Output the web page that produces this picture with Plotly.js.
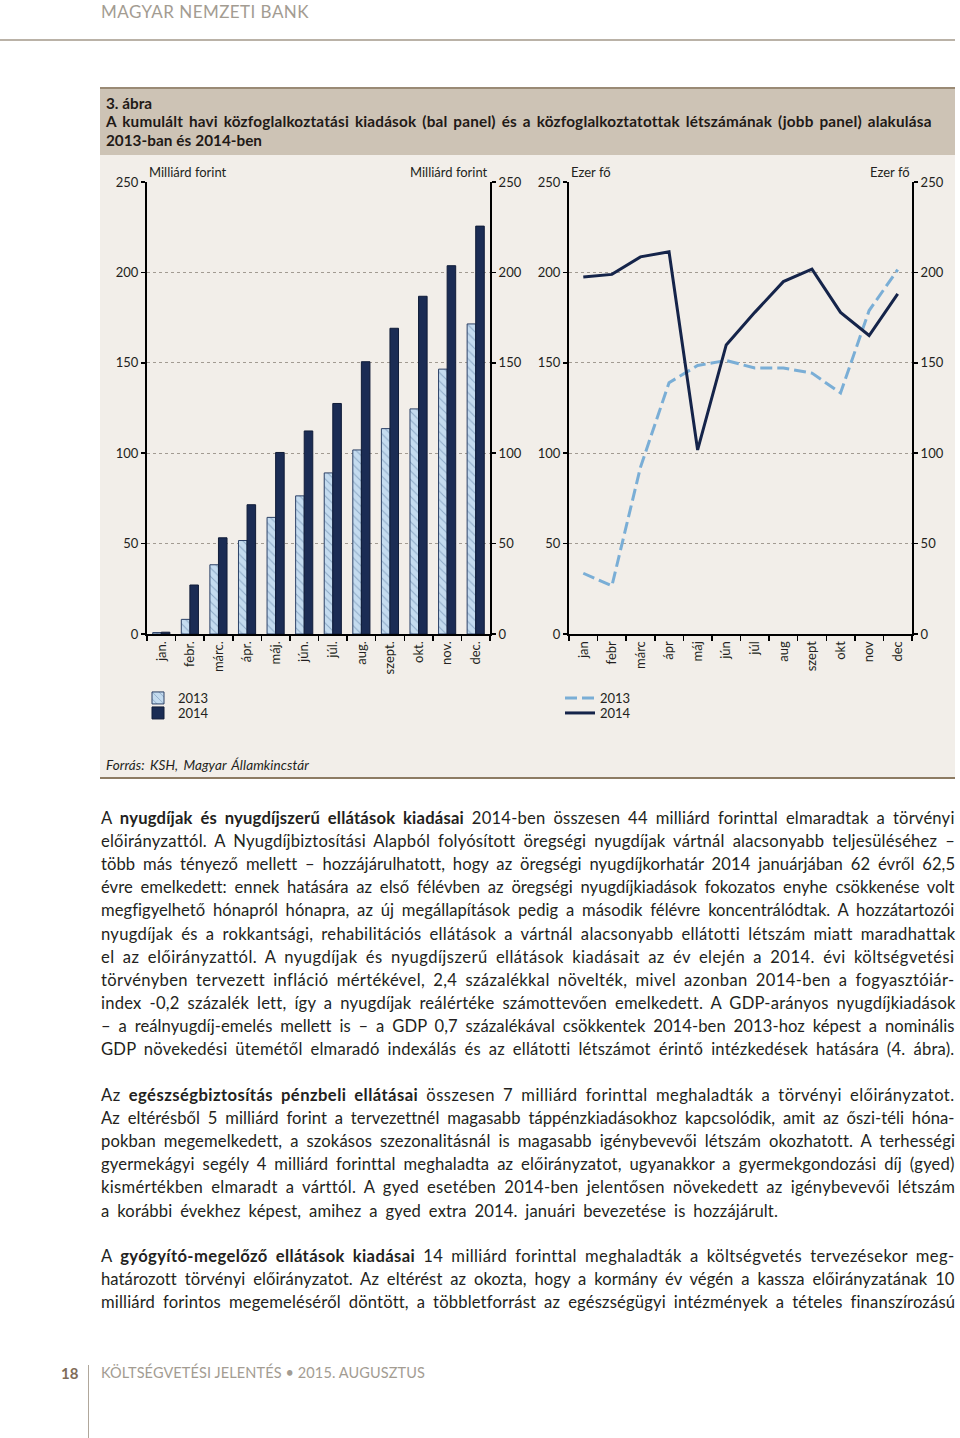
<!DOCTYPE html>
<html><head><meta charset="utf-8">
<script src="https://cdn.plot.ly/plotly-3.0.1.min.js"></script>
<style>
body{margin:0;width:960px;height:1438px;background:#fff;position:relative;font-family:Lato,'Open Sans',sans-serif;overflow:hidden;color:#231f20}
.t{position:absolute;white-space:nowrap;line-height:20px}
.hdr{font-size:17px;color:#a39c92;letter-spacing:0.3px}
.ttl{font-size:15.3px;font-weight:bold;color:#1f1a17}
.body{font-size:16.6px;color:#231f20}
.foot{font-size:14.5px;color:#a39c92}
</style></head><body>
<div class="t hdr" id="hdr" style="left:101px;top:2px">MAGYAR NEMZETI BANK</div>
<div style="position:absolute;left:0;top:39px;width:955px;height:2px;background:#bab2a7"></div>

<div style="position:absolute;left:100px;top:87px;width:855px;height:68px;background:#cdc3b5;border-top:2px solid #9a8a75;box-sizing:border-box"></div>
<div class="t ttl" style="left:106px;top:93px">3. ábra</div>
<div class="t ttl" id="tl1" style="left:106px;top:111px">A kumulált havi közfoglalkoztatási kiadások (bal panel) és a közfoglalkoztatottak létszámának (jobb panel) alakulása</div>
<div class="t ttl" id="tl2" style="left:106px;top:130px">2013-ban és 2014-ben</div>

<div style="position:absolute;left:100px;top:155px;width:855px;height:623px;background:#f2eee9"></div>
<div id="chart" style="position:absolute;left:100px;top:155px;width:855px;height:623px"></div>
<div class="t" id="src" style="left:106px;top:755px;font-size:13.5px;font-style:italic">Forrás: KSH, Magyar Államkincstár</div>
<div style="position:absolute;left:100px;top:777px;width:855px;height:2px;background:#8d7b63"></div>

<div id="text"></div>

<div class="t" style="left:61px;top:1363px;font-size:15px;font-weight:bold;color:#7f6d58">18</div>
<div style="position:absolute;left:88px;top:1365px;width:1px;height:73px;background:#b0a79b"></div>
<div class="t foot" id="foot" style="left:101px;top:1363px">KÖLTSÉGVETÉSI JELENTÉS • 2015. AUGUSZTUS</div>

<script>
// ---- chart data ----
const monthsLeft = ['jan.','febr.','márc.','ápr.','máj.','jún.','júl.','aug.','szept.','okt.','nov.','dec.'];
const monthsRight = ['jan','febr','márc','ápr','máj','jún','júl','aug','szept','okt','nov','dec'];
const seriesNames = ['2013','2014'];
const spend2013 = [0.8, 8.1, 38.3, 51.7, 64.5, 76.4, 89.1, 101.8, 113.6, 124.5, 146.5, 171.5];
const spend2014 = [1.0, 27.1, 53.2, 71.5, 100.4, 112.3, 127.5, 150.6, 169.1, 186.8, 203.7, 225.6];
const workers2013 = [33.6, 26.6, 92.2, 139.0, 148.5, 151.3, 147.1, 147.1, 144.3, 133.3, 178.9, 201.5];
const workers2014 = [197.4, 198.9, 208.6, 211.4, 101.8, 159.9, 177.9, 194.9, 201.8, 177.9, 165.1, 188.1];
const yTicks = [0, 50, 100, 150, 200, 250];
const unitLeft = 'Milliárd forint';
const unitRight = 'Ezer fő';

// ---- body text lines ----
const para1 = [
 'A <b>nyugdíjak és nyugdíjszerű ellátások kiadásai</b> 2014-ben összesen 44 milliárd forinttal elmaradtak a törvényi',
 'előirányzattól. A Nyugdíjbiztosítási Alapból folyósított öregségi nyugdíjak vártnál alacsonyabb teljesüléséhez –',
 'több más tényező mellett – hozzájárulhatott, hogy az öregségi nyugdíjkorhatár 2014 januárjában 62 évről 62,5',
 'évre emelkedett: ennek hatására az első félévben az öregségi nyugdíjkiadások fokozatos enyhe csökkenése volt',
 'megfigyelhető hónapról hónapra, az új megállapítások pedig a második félévre koncentrálódtak. A hozzátartozói',
 'nyugdíjak és a rokkantsági, rehabilitációs ellátások a vártnál alacsonyabb ellátotti létszám miatt maradhattak',
 'el az előirányzattól. A nyugdíjak és nyugdíjszerű ellátások kiadásait az év elején a 2014. évi költségvetési',
 'törvényben tervezett infláció mértékével, 2,4 százalékkal növelték, mivel azonban 2014-ben a fogyasztóiár-',
 'index -0,2 százalék lett, így a nyugdíjak reálértéke számottevően emelkedett. A GDP-arányos nyugdíjkiadások',
 '– a reálnyugdíj-emelés mellett is – a GDP 0,7 százalékával csökkentek 2014-ben 2013-hoz képest a nominális',
 'GDP növekedési ütemétől elmaradó indexálás és az ellátotti létszámot érintő intézkedések hatására (4. ábra).'
];
const para2 = [
 'Az <b>egészségbiztosítás pénzbeli ellátásai</b> összesen 7 milliárd forinttal meghaladták a törvényi előirányzatot.',
 'Az eltérésből 5 milliárd forint a tervezettnél magasabb táppénzkiadásokhoz kapcsolódik, amit az őszi-téli hóna-',
 'pokban megemelkedett, a szokásos szezonalitásnál is magasabb igénybevevői létszám okozhatott. A terhességi',
 'gyermekágyi segély 4 milliárd forinttal meghaladta az előirányzatot, ugyanakkor a gyermekgondozási díj (gyed)',
 'kismértékben elmaradt a várttól. A gyed esetében 2014-ben jelentősen növekedett az igénybevevői létszám',
 'a korábbi évekhez képest, amihez a gyed extra 2014. januári bevezetése is hozzájárult.'
];
const para3 = [
 'A <b>gyógyító-megelőző ellátások kiadásai</b> 14 milliárd forinttal meghaladták a költségvetés tervezésekor meg-',
 'határozott törvényi előirányzatot. Az eltérést az okozta, hogy a kormány év végén a kassza előirányzatának 10',
 'milliárd forintos megemeléséről döntött, a többletforrást az egészségügyi intézmények a tételes finanszírozású'
];

const textBox = document.getElementById('text');
const fitList = [];
function addPara(lines, y0, lastW){
  lines.forEach((ln,i)=>{
    const d = document.createElement('div');
    d.className='t body';
    d.innerHTML = ln;
    d.style.left='101px';
    d.style.top=(y0 + i*23.1 - 10)+'px';
    textBox.appendChild(d);
    fitList.push([d, (i===lines.length-1 && lastW) ? lastW : 853]);
  });
}
addPara(para1, 818, null);
addPara(para2, 1095, 677);
addPara(para3, 1256, null);

function fit(el, w, letters, wsMin, wsMax){
  el.style.wordSpacing='0px'; el.style.letterSpacing='0px';
  const nat = el.getBoundingClientRect().width;
  const diff = w - nat;
  const txt = el.textContent;
  const spaces = (txt.match(/ /g)||[]).length;
  if (letters || spaces === 0) { el.style.letterSpacing = (diff/txt.length)+'px'; return; }
  let ws = diff/spaces;
  ws = Math.max(wsMin, Math.min(wsMax, ws));
  const rest = diff - ws*spaces;
  el.style.wordSpacing = ws+'px';
  if (Math.abs(rest) > 0.5) el.style.letterSpacing = (rest/txt.length)+'px';
}
function doFit(){
  fitList.forEach(([el,w])=>fit(el,w,false,-2.5,3.5));
  fit(document.getElementById('hdr'),208,true);
  fit(document.getElementById('tl1'),825,false,-2,2);
  fit(document.getElementById('tl2'),156,false,-2,2);
  fit(document.getElementById('src'),203,false,-2,2);
  fit(document.getElementById('foot'),324,true);
}
doFit();
if (document.fonts && document.fonts.ready) document.fonts.ready.then(doFit);

// ---- plot ----
const W = 855, H = 623;
const yDom = [(H-479)/H, (H-27)/H];
const navy = '#1b2c54';
const lightBlue = '#7aaed6';
const axisFont = {family:'Lato, sans-serif', size:13, color:'#231f20'};

function yAx(extra){
  return Object.assign({range:[0,250], tickvals:yTicks, ticks:'outside', ticklen:4, tickwidth:1.5, tickcolor:'#000',
    showline:true, linecolor:'#000', linewidth:2, zeroline:false, tickfont:axisFont, fixedrange:true}, extra);
}
function xAx(extra){
  return Object.assign({type:'category', range:[-0.5, 11.5], autorange:false, tickson:'boundaries', ticks:'outside', ticklen:5, tickwidth:1.5, tickcolor:'#000',
    showline:true, linecolor:'#000', linewidth:2, tickangle:-90, showgrid:false, zeroline:false, tickfont:axisFont, fixedrange:true}, extra);
}
const grid = {showgrid:true, gridcolor:'#a29b92', griddash:'dot', gridwidth:1};

const traces = [
  {type:'bar', name:seriesNames[0], x:monthsLeft, y:spend2013, xaxis:'x', yaxis:'y', legend:'legend',
   marker:{color:'#c4dbef', line:{color:'#2c4166', width:1},
     pattern:{shape:'\\', fillmode:'overlay', fgcolor:'#5a7aa0', size:6, solidity:0.18}}, hoverinfo:'skip'},
  {type:'bar', name:seriesNames[1], x:monthsLeft, y:spend2014, xaxis:'x', yaxis:'y', legend:'legend2',
   marker:{color:navy, line:{color:'#101c38', width:1}}, hoverinfo:'skip'},
  {type:'scatter', mode:'markers', x:[monthsLeft[0]], y:[0], xaxis:'x', yaxis:'y2', showlegend:false,
   marker:{opacity:0, size:1}, hoverinfo:'skip'},
  {type:'scatter', mode:'lines', name:seriesNames[0], x:monthsRight, y:workers2013, xaxis:'x2', yaxis:'y3', legend:'legend3',
   line:{color:lightBlue, width:3, dash:'12px,5px'}, hoverinfo:'skip'},
  {type:'scatter', mode:'lines', name:seriesNames[1], x:monthsRight, y:workers2014, xaxis:'x2', yaxis:'y3', legend:'legend4',
   line:{color:'#15244a', width:3}, hoverinfo:'skip'},
  {type:'scatter', mode:'markers', x:[monthsRight[0]], y:[0], xaxis:'x2', yaxis:'y4', showlegend:false,
   marker:{opacity:0, size:1}, hoverinfo:'skip'}
];

function leg(xpx, ypx){
  return {x:xpx/W, y:1-ypx/H, xanchor:'left', yanchor:'middle', bgcolor:'rgba(0,0,0,0)', borderwidth:0,
    font:{family:'Lato, sans-serif', size:13, color:'#231f20'}, itemclick:false, itemdoubleclick:false};
}

const layout = {
  width:W, height:H, margin:{l:0,r:0,t:0,b:0},
  paper_bgcolor:'rgba(0,0,0,0)', plot_bgcolor:'rgba(0,0,0,0)',
  font:axisFont, barmode:'group', bargap:0.4, bargroupgap:0,
  showlegend:true,
  xaxis: xAx({domain:[47/W, 390/W], anchor:'y'}),
  yaxis: yAx(Object.assign({domain:yDom, anchor:'x', side:'left'}, grid)),
  yaxis2: yAx({overlaying:'y', anchor:'x', side:'right', showgrid:false}),
  xaxis2: xAx({domain:[469/W, 812/W], anchor:'y3'}),
  yaxis3: yAx(Object.assign({domain:yDom, anchor:'x2', side:'left'}, grid)),
  yaxis4: yAx({overlaying:'y3', anchor:'x2', side:'right', showgrid:false}),
  legend: leg(38, 543),
  legend2: leg(38, 558),
  legend3: leg(460, 543),
  legend4: leg(460, 558),
  annotations:[
    {text:unitLeft, xref:'x domain', yref:'paper', x:0, y:1-17/H, xanchor:'left', yanchor:'middle', showarrow:false, font:axisFont},
    {text:unitLeft, xref:'x domain', yref:'paper', x:1, y:1-17/H, xanchor:'right', yanchor:'middle', showarrow:false, font:axisFont},
    {text:unitRight, xref:'x2 domain', yref:'paper', x:0, y:1-17/H, xanchor:'left', yanchor:'middle', showarrow:false, font:axisFont},
    {text:unitRight, xref:'x2 domain', yref:'paper', x:1, y:1-17/H, xanchor:'right', yanchor:'middle', showarrow:false, font:axisFont}
  ]
};
Plotly.newPlot('chart', traces, layout, {staticPlot:true, displayModeBar:false});
</script>
</body></html>
